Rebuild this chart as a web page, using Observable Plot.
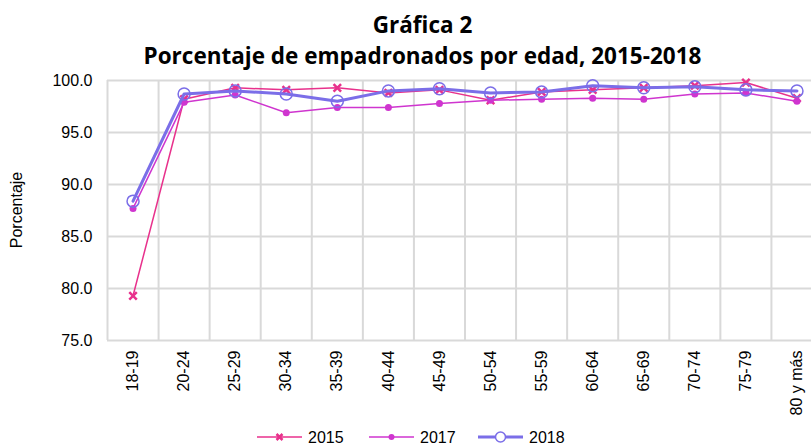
<!DOCTYPE html>
<html>
<head>
<meta charset="utf-8">
<script src="https://cdn.jsdelivr.net/npm/d3@7"></script>
<script src="https://cdn.jsdelivr.net/npm/@observablehq/plot@0.6"></script>
<style>
  html, body { margin: 0; padding: 0; background: #fff; }
  #wrap { position: relative; width: 811px; height: 446px; overflow: hidden; font-family: "Liberation Sans", Arial, sans-serif; }
  #title { position: absolute; left: 0; top: 9px; width: 845px; text-align: center; font-family: "Open Sans", sans-serif; font-weight: 700; font-size: 22.5px; line-height: 31px; color: #000; }
  #chart { position: absolute; left: 0; top: 70px; }
  #ylabel { position: absolute; left: 17px; top: 210px; transform: translate(-50%, -50%) rotate(-90deg); font-size: 16px; white-space: nowrap; color: #000; }
  #legend { position: absolute; left: 0; top: 426px; }
</style>
</head>
<body>
<div id="wrap">
  <div id="title">Gráfica 2<br>Porcentaje de empadronados por edad, 2015-2018</div>
  <div id="chart"></div>
  <div id="ylabel">Porcentaje</div>
  <svg id="legend" width="811" height="20"></svg>
</div>
<script>
const categories = ["18-19","20-24","25-29","30-34","35-39","40-44","45-49","50-54","55-59","60-64","65-69","70-74","75-79","80 y más"];
const years = ["2015", "2017", "2018"];
const v2015 = [79.3, 98.2, 99.3, 99.1, 99.3, 98.8, 99.1, 98.1, 98.9, 99.1, 99.3, 99.5, 99.8, 98.3];
const v2017 = [87.7, 97.9, 98.6, 96.9, 97.4, 97.4, 97.8, 98.1, 98.2, 98.3, 98.2, 98.7, 98.8, 98.0];
const v2018 = [88.4, 98.7, 99.0, 98.7, 98.0, 99.0, 99.2, 98.8, 98.9, 99.5, 99.3, 99.4, 99.1, 99.0];
const yTicks = [75, 80, 85, 90, 95, 100];

const colors = {"2015": "#e8318c", "2017": "#cf35cf", "2018": "#7b6ee8"};
const seriesValues = {"2015": v2015, "2017": v2017, "2018": v2018};
const n = categories.length;

const rows = years.map(y => seriesValues[y].map((v, i) => ({year: y, pos: i + 0.5, value: v})));
const [r15, r17, r18] = rows;

const chart = Plot.plot({
  width: 811,
  height: 360,
  marginTop: 10,
  marginBottom: 90,
  marginLeft: 107,
  marginRight: 0,
  style: {fontFamily: "'Liberation Sans', Arial, sans-serif", fontSize: "16px", color: "#000", background: "#fff"},
  x: {
    domain: [0, n],
    range: [107, 822],
    ticks: categories.map((_, i) => i + 0.5),
    tickFormat: d => categories[Math.round(d - 0.5)],
    tickRotate: -90,
    tickSize: 0,
    tickPadding: 10,
    label: null
  },
  y: {
    domain: [75, 100],
    ticks: yTicks,
    tickFormat: d => d.toFixed(1),
    tickSize: 0,
    tickPadding: 15,
    label: null
  },
  marks: [
    Plot.ruleY(yTicks, {stroke: "#d9d9d9", strokeWidth: 2}),
    Plot.ruleX(d3.range(n + 1), {stroke: "#d9d9d9", strokeWidth: 2}),
    Plot.line(r15, {x: "pos", y: "value", stroke: colors["2015"], strokeWidth: 1.5}),
    Plot.dot(r15, {x: "pos", y: "value", symbol: "times", r: 3.5, stroke: colors["2015"], strokeWidth: 2.5}),
    Plot.line(r17, {x: "pos", y: "value", stroke: colors["2017"], strokeWidth: 1.5}),
    Plot.dot(r17, {x: "pos", y: "value", r: 3.5, fill: colors["2017"], stroke: "none"}),
    Plot.line(r18, {x: "pos", y: "value", stroke: colors["2018"], strokeWidth: 3}),
    Plot.dot(r18, {x: "pos", y: "value", r: 6, fill: "none", stroke: colors["2018"], strokeWidth: 1.5})
  ]
});
document.getElementById("chart").appendChild(chart);

// Legend
const lg = d3.select("#legend");
const starts = [257, 369, 478];
years.forEach((y, k) => {
  const x0 = starts[k], w = 45, cy = 11;
  const g = lg.append("g");
  g.append("line").attr("x1", x0).attr("x2", x0 + w).attr("y1", cy).attr("y2", cy)
    .attr("stroke", colors[y]).attr("stroke-width", y === "2018" ? 3 : 1.5);
  const cx = x0 + w / 2;
  if (y === "2015") {
    g.append("path").attr("d", `M${cx-3},${cy-3}L${cx+3},${cy+3}M${cx-3},${cy+3}L${cx+3},${cy-3}`)
      .attr("stroke", colors[y]).attr("stroke-width", 2.5);
  } else if (y === "2017") {
    g.append("circle").attr("cx", cx).attr("cy", cy).attr("r", 3).attr("fill", colors[y]);
  } else {
    g.append("circle").attr("cx", cx).attr("cy", cy).attr("r", 5).attr("fill", "#fff").attr("stroke", colors[y]).attr("stroke-width", 1.5);
  }
  g.append("text").attr("x", x0 + w + 6).attr("y", cy).attr("dy", "0.35em")
    .attr("font-family", "'Liberation Sans', Arial, sans-serif").attr("font-size", 16).text(y);
});
</script>
</body>
</html>
